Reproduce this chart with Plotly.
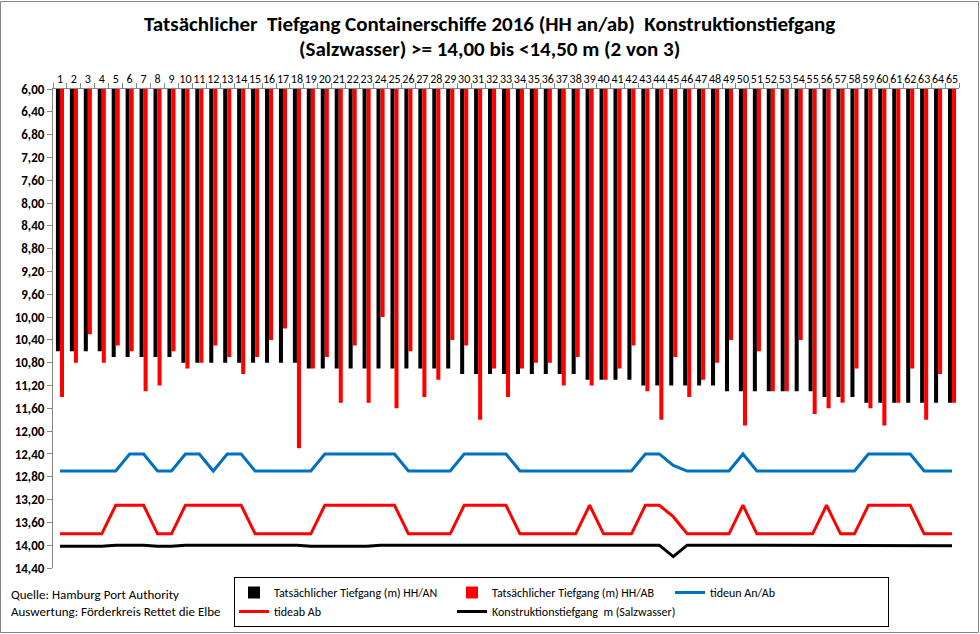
import plotly.graph_objects as go

categories = [str(i) for i in range(1, 66)]

tiefgang_an = [10.60, 10.60, 10.60, 10.60, 10.70, 10.70, 10.70, 10.70, 10.70, 10.80,
               10.80, 10.80, 10.80, 10.80, 10.80, 10.80, 10.80, 10.80, 10.90, 10.90,
               10.90, 10.90, 10.90, 10.90, 10.90, 10.90, 10.90, 10.90, 10.90, 11.00,
               11.00, 11.00, 11.00, 11.00, 11.00, 11.00, 11.00, 11.00, 11.10, 11.10,
               11.10, 11.10, 11.20, 11.20, 11.20, 11.20, 11.20, 11.20, 11.30, 11.30,
               11.30, 11.30, 11.30, 11.30, 11.30, 11.40, 11.40, 11.40, 11.50, 11.50,
               11.50, 11.50, 11.50, 11.50, 11.50]

tiefgang_ab = [11.40, 10.80, 10.30, 10.80, 10.50, 10.60, 11.30, 11.20, 10.60, 10.90,
               10.80, 10.50, 10.70, 11.00, 10.70, 10.40, 10.20, 12.30, 10.90, 10.70,
               11.50, 10.50, 11.50, 10.00, 11.60, 10.60, 11.40, 11.10, 10.40, 10.50,
               11.80, 10.90, 11.40, 10.90, 10.80, 10.80, 11.20, 10.70, 11.20, 11.10,
               10.90, 10.50, 11.30, 11.80, 10.70, 11.40, 11.10, 10.80, 10.40, 11.90,
               10.60, 11.30, 11.30, 10.40, 11.70, 11.60, 11.50, 10.90, 11.60, 11.90,
               11.50, 10.90, 11.80, 11.00, 11.50]

tideun = [12.70, 12.70, 12.70, 12.70, 12.70, 12.40, 12.40, 12.70, 12.70, 12.40,
          12.40, 12.70, 12.40, 12.40, 12.70, 12.70, 12.70, 12.70, 12.70, 12.40,
          12.40, 12.40, 12.40, 12.40, 12.40, 12.70, 12.70, 12.70, 12.70, 12.40,
          12.40, 12.40, 12.40, 12.70, 12.70, 12.70, 12.70, 12.70, 12.70, 12.70,
          12.70, 12.70, 12.40, 12.40, 12.60, 12.70, 12.70, 12.70, 12.70, 12.40,
          12.70, 12.70, 12.70, 12.70, 12.70, 12.70, 12.70, 12.70, 12.40, 12.40,
          12.40, 12.40, 12.70, 12.70, 12.70]

tideab = [13.80, 13.80, 13.80, 13.80, 13.30, 13.30, 13.30, 13.80, 13.80, 13.30,
          13.30, 13.30, 13.30, 13.30, 13.80, 13.80, 13.80, 13.80, 13.80, 13.30,
          13.30, 13.30, 13.30, 13.30, 13.30, 13.80, 13.80, 13.80, 13.80, 13.30,
          13.30, 13.30, 13.30, 13.80, 13.80, 13.80, 13.80, 13.80, 13.30, 13.80,
          13.80, 13.80, 13.30, 13.30, 13.50, 13.80, 13.80, 13.80, 13.80, 13.30,
          13.80, 13.80, 13.80, 13.80, 13.80, 13.30, 13.80, 13.80, 13.30, 13.30,
          13.30, 13.30, 13.80, 13.80, 13.80]

konstruktion = [14.02, 14.02, 14.02, 14.02, 14.00, 14.00, 14.00, 14.02, 14.02, 14.00,
                14.00, 14.00, 14.00, 14.00, 14.00, 14.00, 14.00, 14.00, 14.02, 14.02,
                14.02, 14.02, 14.02, 14.00, 14.00, 14.00, 14.00, 14.00, 14.00, 14.00,
                14.00, 14.00, 14.00, 14.01, 14.01, 14.01, 14.01, 14.01, 14.00, 14.01,
                14.01, 14.01, 14.00, 14.00, 14.20, 14.00, 14.00, 14.00, 14.00, 14.00,
                14.01, 14.01, 14.01, 14.01, 14.01, 14.00, 14.01, 14.01, 14.00, 14.00,
                14.00, 14.00, 14.01, 14.00, 14.01]

y_ticks = [6.0 + 0.4 * i for i in range(22)]
y_ticktext = [f"{v:.2f}".replace(".", ",") for v in y_ticks]

title_line1 = "Tatsächlicher  Tiefgang Containerschiffe 2016 (HH an/ab)  Konstruktionstiefgang"
title_line2 = "(Salzwasser) >= 14,00 bis <14,50 m (2 von 3)"
source_lines = ["Quelle: Hamburg Port Authority", "Auswertung: Förderkreis Rettet die Elbe"]

FONT = "Carlito, Lato, 'Liberation Sans', sans-serif"

fig = go.Figure()
fig.add_trace(go.Bar(x=categories, y=tiefgang_an, name="Tatsächlicher Tiefgang (m) HH/AN",
                     legendgroup="a", marker=dict(color="#000000", line_width=0)))
fig.add_trace(go.Bar(x=categories, y=tiefgang_ab, name="Tatsächlicher Tiefgang (m) HH/AB",
                     legendgroup="b", marker=dict(color="#FF0000", line_width=0)))
fig.add_trace(go.Scatter(x=categories, y=tideun, name="tideun An/Ab", mode="lines",
                         legendgroup="c", line=dict(color="#0070C0", width=3)))
fig.add_trace(go.Scatter(x=categories, y=tideab, name="tideab Ab", mode="lines",
                         legendgroup="a", line=dict(color="#FF0000", width=3)))
fig.add_trace(go.Scatter(x=categories, y=konstruktion, name="Konstruktionstiefgang  m (Salzwasser)",
                         mode="lines", legendgroup="b", line=dict(color="#000000", width=3)))

L, R, T, B = 53, 21, 89, 66
PW, PH = 980 - L - R, 634 - T - B


def px_x(px):
    return (px - L) / PW


def px_y(py):
    return (634 - B - py) / PH


annotations = [
    dict(text="<b>" + title_line1 + "</b>", xref="paper", yref="paper", x=px_x(489), y=px_y(24),
         xanchor="center", yanchor="middle", showarrow=False, font=dict(size=21, family=FONT)),
    dict(text="<b>" + title_line2 + "</b>", xref="paper", yref="paper", x=px_x(489), y=px_y(49),
         xanchor="center", yanchor="middle", showarrow=False, font=dict(size=21, family=FONT)),
]
for i, s in enumerate(source_lines):
    annotations.append(dict(text=s, xref="paper", yref="paper", x=px_x(9), y=px_y(594 + 17 * i),
                            xanchor="left", yanchor="middle", showarrow=False,
                            font=dict(size=13, family=FONT)))

fig.update_layout(
    width=980, height=634,
    margin=dict(l=L, r=R, t=T, b=B, autoexpand=False),
    paper_bgcolor="white", plot_bgcolor="white",
    font=dict(family=FONT, color="black", size=11),
    barmode="group", bargap=0.42, bargroupgap=0,
    showlegend=True,
    legend=dict(orientation="h", x=px_x(234), y=px_y(577), xanchor="left", yanchor="top",
                bordercolor="black", borderwidth=1, bgcolor="white",
                font=dict(size=12, family=FONT), entrywidth=173, entrywidthmode="pixels",
                traceorder="grouped", tracegroupgap=0),
    xaxis=dict(type="category", side="top", range=[-0.5, 64.5], showgrid=False, automargin=False,
               tickmode="linear", tick0=0, dtick=1,
               showline=True, linecolor="#868686", linewidth=1,
               ticks="outside", ticklen=5, tickcolor="#868686", tickson="boundaries",
               tickfont=dict(size=12, family=FONT, color="black"), tickangle=0, zeroline=False),
    yaxis=dict(range=[14.4, 6.0], tickvals=y_ticks, ticktext=y_ticktext, showgrid=False,
               automargin=False, showline=True, linecolor="#868686", linewidth=1,
               ticks="outside", ticklen=5, tickcolor="#868686",
               tickfont=dict(size=13, family=FONT, color="black", weight="bold"), zeroline=False),
    shapes=[dict(type="rect", xref="paper", yref="paper",
                 x0=px_x(0.5), x1=px_x(978.5), y0=px_y(632.5), y1=px_y(1.5),
                 line=dict(color="#868686", width=1), fillcolor="rgba(0,0,0,0)", layer="below")],
    annotations=annotations,
)

fig.write_html("out.html", config={"displayModeBar": False},
               post_script="document.body.style.margin='0';")
